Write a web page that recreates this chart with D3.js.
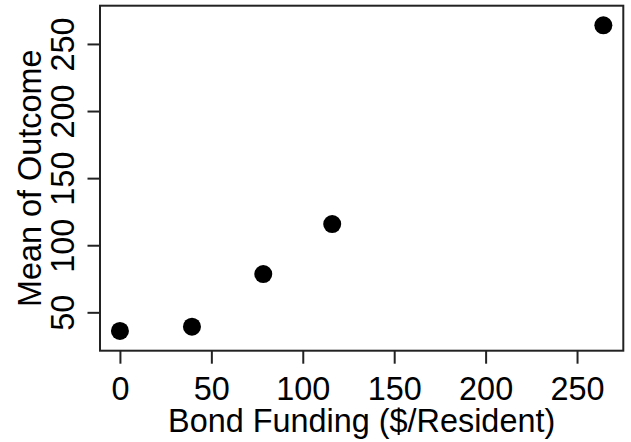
<!DOCTYPE html>
<html>
<head>
<meta charset="utf-8">
<script src="https://cdn.jsdelivr.net/npm/d3@7"></script>
<style>
  body { margin: 0; background: #fff; }
  svg text { font-family: "Liberation Sans", Arial, sans-serif; fill: #000; }
</style>
</head>
<body>
<div id="chart"></div>
<script>
// group means
const funding = [0, 39.4, 78.4, 116.1, 264.4];
const outcome = [36.1, 39.3, 78.5, 115.8, 263.9];
const xTicks = [0, 50, 100, 150, 200, 250];
const yTicks = [50, 100, 150, 200, 250];

const W = 631, H = 442;
const box = {left: 100, right: 623.3, top: 5.7, bottom: 350.7};
const fs = 32.4;

const svg = d3.select("#chart")
  .append("svg")
  .attr("width", W)
  .attr("height", H);

const x = d3.scaleLinear()
  .domain([-10.9, 275.3])
  .range([box.left, box.right]);

const y = d3.scaleLinear()
  .domain([21.4, 278.5])
  .range([box.bottom, box.top]);

// x axis
const xAxis = svg.append("g")
  .attr("transform", `translate(0,${box.bottom})`)
  .call(d3.axisBottom(x).tickValues(xTicks).tickSize(13).tickSizeOuter(0).tickFormat(d3.format("d")));
xAxis.select(".domain").remove();
xAxis.selectAll("line").attr("stroke", "#222").attr("stroke-width", 2);
xAxis.selectAll("text")
  .attr("font-size", fs)
  .attr("fill", "#000")
  .attr("y", 49.3)
  .attr("dy", null);

// y axis
const yAxis = svg.append("g")
  .attr("transform", `translate(${box.left},0)`)
  .call(d3.axisLeft(y).tickValues(yTicks).tickSize(12.5).tickSizeOuter(0).tickFormat(d3.format("d")));
yAxis.select(".domain").remove();
yAxis.selectAll("line").attr("stroke", "#222").attr("stroke-width", 2);
yAxis.selectAll("text")
  .attr("font-size", fs)
  .attr("fill", "#000")
  .attr("x", null).attr("dy", null)
  .attr("text-anchor", "middle")
  .attr("transform", "translate(-26,0) rotate(-90)");

// plot frame
svg.append("rect")
  .attr("x", box.left)
  .attr("y", box.top)
  .attr("width", box.right - box.left)
  .attr("height", box.bottom - box.top)
  .attr("fill", "none")
  .attr("stroke", "#222")
  .attr("stroke-width", 2);

// points
svg.selectAll("circle.pt")
  .data(funding)
  .join("circle")
  .attr("class", "pt")
  .attr("cx", d => x(d))
  .attr("cy", (d, i) => y(outcome[i]))
  .attr("r", 9)
  .attr("fill", "#000");

// axis titles
svg.append("text")
  .attr("x", (box.left + box.right) / 2)
  .attr("y", 431.7)
  .attr("text-anchor", "middle")
  .attr("font-size", fs)
  .text("Bond Funding ($/Resident)");

svg.append("text")
  .attr("transform", `translate(40.7,${(box.top + box.bottom) / 2}) rotate(-90)`)
  .attr("text-anchor", "middle")
  .attr("font-size", fs)
  .text("Mean of Outcome");
</script>
</body>
</html>
